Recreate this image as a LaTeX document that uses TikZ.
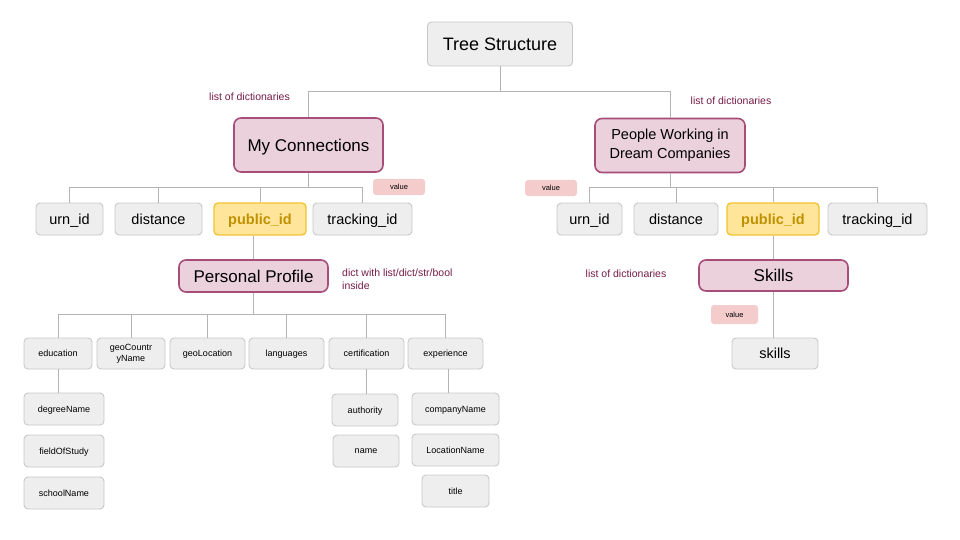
\documentclass[tikz,border=0pt]{standalone}
\usepackage{fontspec}
\setmainfont{Liberation Sans}
\definecolor{gfill}{HTML}{EEEEEE}
\definecolor{gline}{HTML}{C8C8C8}
\definecolor{pfill}{HTML}{EAD1DC}
\definecolor{pline}{HTML}{A64D79}
\definecolor{yfill}{HTML}{FFE599}
\definecolor{yline}{HTML}{F1C232}
\definecolor{ytext}{HTML}{BF9000}
\definecolor{vfill}{HTML}{F4CCCC}
\definecolor{ltext}{HTML}{741B47}
\definecolor{conncol}{HTML}{B4B4B4}
\tikzset{
  tl/.style={text depth=0pt},
  gbox/.style={draw=gline, fill=gfill, rounded corners=4pt, line width=0.9pt, inner sep=0pt, font=\fontsize{14.5}{17}\selectfont},
  sbox/.style={gbox, font=\fontsize{9}{11}\selectfont},
  pbox/.style={draw=pline, fill=pfill, rounded corners=7pt, line width=1.6pt, inner sep=0pt, font=\fontsize{17}{20}\selectfont},
  ybox/.style={draw=yline, fill=yfill, rounded corners=4pt, line width=1.3pt, inner sep=0pt, text=ytext, font=\bfseries\fontsize{14.5}{17}\selectfont},
  vbox/.style={fill=vfill, rounded corners=3pt, inner sep=0pt, font=\fontsize{7.5}{9}\selectfont},
  lbl/.style={text=ltext, inner sep=0pt, font=\fontsize{10.5}{12.5}\selectfont},
  conn/.style={draw=conncol, line width=0.9pt}
}
\begin{document}
\begin{tikzpicture}[x=1pt,y=-1pt]
\useasboundingbox (0,0) rectangle (960,540);
% top
\node[gbox, tl, minimum width=145pt, minimum height=44pt, font=\fontsize{18}{20}\selectfont] (ts) at (500,44) {Tree Structure};
\node[pbox, tl, minimum width=149pt, minimum height=54pt] (mc) at (308.5,145) {My Connections};
\node[pbox, align=center, minimum width=150pt, minimum height=54pt, font=\fontsize{14.5}{18.5}\selectfont] (pw) at (670,145.5) {People Working in\\Dream Companies};
\node[lbl, tl] (l1) at (249.5,96.5) {list of dictionaries};
\node[lbl, tl] (l2) at (731,100.5) {list of dictionaries};
\coordinate (b0) at (0,91);
\draw[conn] (ts.south) -- (ts.south |- b0);
\draw[conn] (mc.north) |- (pw.north |- b0) -- (pw.north);
% left row
\node[gbox, tl, minimum width=67pt, minimum height=32pt] (u1) at (69.5,219) {urn\_id};
\node[gbox, tl, minimum width=87pt, minimum height=32pt] (d1) at (158.5,219) {distance};
\node[ybox, tl, minimum width=92pt, minimum height=32pt] (p1) at (260,219) {public\_id};
\node[gbox, tl, minimum width=99pt, minimum height=32pt] (t1) at (362.5,219) {tracking\_id};
\node[vbox, tl, minimum width=52pt, minimum height=16pt] (v1) at (399,187) {value};
\coordinate (b1) at (0,187);
\draw[conn] (mc.south) -- (mc.south |- b1);
\draw[conn] (u1.north) |- (t1.north |- b1) -- (t1.north);
\draw[conn] (d1.north) -- (d1.north |- b1);
\draw[conn] (p1.north) -- (p1.north |- b1);
% right row
\node[gbox, tl, minimum width=65pt, minimum height=32pt] (u2) at (589.5,219) {urn\_id};
\node[gbox, tl, minimum width=84pt, minimum height=32pt] (d2) at (676,219) {distance};
\node[ybox, tl, minimum width=92pt, minimum height=32pt] (p2) at (773,219) {public\_id};
\node[gbox, tl, minimum width=99pt, minimum height=32pt] (t2) at (877.5,219) {tracking\_id};
\node[vbox, tl, minimum width=52pt, minimum height=16pt] (v2) at (551,188) {value};
\draw[conn] (pw.south) -- (pw.south |- b1);
\draw[conn] (u2.north) |- (t2.north |- b1) -- (t2.north);
\draw[conn] (d2.north) -- (d2.north |- b1);
\draw[conn] (p2.north) -- (p2.north |- b1);
% personal profile
\node[pbox, tl, minimum width=149pt, minimum height=32pt] (pp) at (253.5,276) {Personal Profile};
\node[lbl, anchor=west, align=left] (l3) at (342,279) {dict with list/dict/str/bool\\inside};
\draw[conn] (pp.north) -- (pp.north |- p1.south);
\node[sbox, tl, minimum width=68pt, minimum height=31pt] (ed) at (58,353.5) {education};
\node[sbox, align=center, minimum width=68pt, minimum height=31pt, text width=64pt] (gc) at (131,353.5) {geoCountr\\yName};
\node[sbox, tl, minimum width=75pt, minimum height=31pt] (gl) at (207.5,353.5) {geoLocation};
\node[sbox, tl, minimum width=75pt, minimum height=31pt] (la) at (286.5,353.5) {languages};
\node[sbox, tl, minimum width=75pt, minimum height=31pt] (ce) at (366.5,353.5) {certification};
\node[sbox, tl, minimum width=75pt, minimum height=31pt] (ex) at (445.5,353.5) {experience};
\coordinate (b2) at (0,314);
\draw[conn] (pp.south) -- (pp.south |- b2);
\draw[conn] (ed.north) |- (ex.north |- b2) -- (ex.north);
\draw[conn] (gc.north) -- (gc.north |- b2);
\draw[conn] (gl.north) -- (gl.north |- b2);
\draw[conn] (la.north) -- (la.north |- b2);
\draw[conn] (ce.north) -- (ce.north |- b2);
% education children
\node[sbox, tl, minimum width=80pt, minimum height=32pt] (dn) at (64,409) {degreeName};
\node[sbox, tl, minimum width=80pt, minimum height=32pt] (fs) at (64,451) {fieldOfStudy};
\node[sbox, tl, minimum width=80pt, minimum height=32pt] (sn) at (64,493) {schoolName};
\draw[conn] (ed.south) -- (ed.south |- dn.north);
% certification children
\node[sbox, tl, minimum width=66pt, minimum height=32pt] (au) at (365,410) {authority};
\node[sbox, tl, minimum width=66pt, minimum height=32pt] (nm) at (366,451) {name};
\draw[conn] (ce.south) -- (ce.south |- au.north);
% experience children
\node[sbox, tl, minimum width=87pt, minimum height=32pt] (cn) at (455.5,409) {companyName};
\node[sbox, tl, minimum width=87pt, minimum height=32pt] (ln) at (455.5,450) {LocationName};
\node[sbox, tl, minimum width=67pt, minimum height=32pt] (ti) at (455.5,491) {title};
\draw[conn] ([xshift=3pt]ex.south) -- ([xshift=3pt]ex.south |- cn.north);
% skills
\node[pbox, tl, minimum width=149pt, minimum height=31pt] (sk) at (773.5,275.5) {Skills};
\node[lbl, tl] (l4) at (626,273.5) {list of dictionaries};
\node[vbox, tl, minimum width=47pt, minimum height=19pt] (v3) at (734.5,314.5) {value};
\node[gbox, tl, minimum width=86pt, minimum height=31pt] (sl) at (775,353.5) {skills};
\draw[conn] (sk.north) -- (sk.north |- p2.south);
\draw[conn] (sk.south) -- (sk.south |- sl.north);
\end{tikzpicture}
\end{document}
